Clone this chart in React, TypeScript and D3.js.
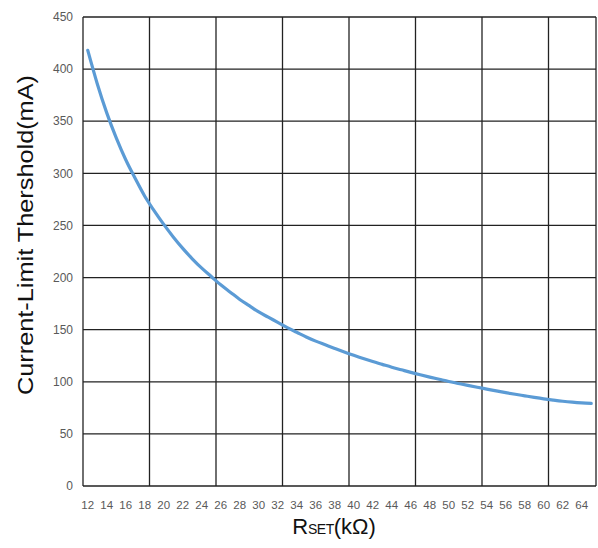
import React from "react";
import * as d3 from "d3";

const rset: number[] = [
  12, 13, 14, 15, 16, 17, 18, 19, 20, 21, 22, 23, 24, 25, 26, 27, 28, 29, 30,
  31, 32, 33, 34, 35, 36, 37, 38, 39, 40, 41, 42, 43, 44, 45, 46, 47, 48, 49,
  50, 51, 52, 53, 54, 55, 56, 57, 58, 59, 60, 61, 62, 63, 64, 65,
];
const current: number[] = [
  418, 386, 358, 334, 313, 295, 278, 264, 251, 239, 228, 218, 209, 201, 193,
  186, 179, 173, 167, 162, 157, 152, 147.5, 143, 139, 135.5, 132, 128.6, 125.4,
  122.3, 119.4, 116.7, 114, 111.5, 109, 106.7, 104.5, 102.4, 100.3, 98.4, 96.5,
  94.7, 93, 91.3, 89.6, 88, 86.5, 85, 83.6, 82.4, 81.3, 80.4, 79.7, 79.2,
];
const xTickLabels: number[] = [
  12, 14, 16, 18, 20, 22, 24, 26, 28, 30, 32, 34, 36, 38, 40, 42, 44, 46, 48,
  50, 52, 54, 56, 58, 60, 62, 64,
];
const xGrid: number[] = [11.5, 18.5, 25.5, 32.5, 39.5, 46.5, 53.5, 60.5, 65.5];
const yTicks: number[] = [0, 50, 100, 150, 200, 250, 300, 350, 400, 450];

export default function App() {
  const W = 598;
  const H = 548;
  const left = 83;
  const right = 596;
  const top = 17;
  const bottom = 486;
  const x = d3.scaleLinear().domain([11.5, 65.5]).range([left, right]);
  const y = d3.scaleLinear().domain([0, 450]).range([bottom, top]);
  const pts: [number, number][] = rset.map((r, i) => [r, current[i]]);
  const line = d3
    .line<[number, number]>()
    .x((d) => x(d[0]))
    .y((d) => y(d[1]))
    .curve(d3.curveMonotoneX);
  const tickFont = "Liberation Sans, Arial, sans-serif";
  return (
    <svg
      width={W}
      height={H}
      style={{ position: "absolute", left: 0, top: 0, background: "#fff" }}
    >
      <rect x={0} y={0} width={W} height={H} fill="#fff" />
      {yTicks.map((t) => (
        <line
          key={"gy" + t}
          x1={left}
          x2={right}
          y1={y(t)}
          y2={y(t)}
          stroke="#222"
          strokeWidth={1.3}
        />
      ))}
      {xGrid.map((g) => (
        <line
          key={"gx" + g}
          x1={x(g)}
          x2={x(g)}
          y1={top}
          y2={bottom}
          stroke="#222"
          strokeWidth={1.3}
        />
      ))}
      <path
        d={line(pts) || ""}
        fill="none"
        stroke="#5B9BD5"
        strokeWidth={3.2}
        strokeLinecap="round"
      />
      {yTicks.map((t) => (
        <text
          key={"ly" + t}
          x={73}
          y={y(t)}
          dy="0.35em"
          textAnchor="end"
          fontFamily={tickFont}
          fontSize={12}
          fill="#595959"
        >
          {t}
        </text>
      ))}
      {xTickLabels.map((t) => (
        <text
          key={"lx" + t}
          x={x(t)}
          y={509}
          textAnchor="middle"
          fontFamily={tickFont}
          fontSize={11.5}
          fill="#595959"
        >
          {t}
        </text>
      ))}
      <text
        transform="translate(33,235) rotate(-90)"
        textAnchor="middle"
        fontFamily="Liberation Sans, Arial, sans-serif"
        fontSize={22}
        textLength={320}
        lengthAdjust="spacingAndGlyphs"
        fill="#111"
      >
        Current-Limit Thershold(mA)
      </text>
      <text
        x={334}
        y={534}
        textAnchor="middle"
        fontFamily="Liberation Sans, Arial, sans-serif"
        fontSize={22}
        fill="#111"
      >
        R
        <tspan fontSize={14} letterSpacing={-0.5}>
          SET
        </tspan>
        (kΩ)
      </text>
    </svg>
  );
}
